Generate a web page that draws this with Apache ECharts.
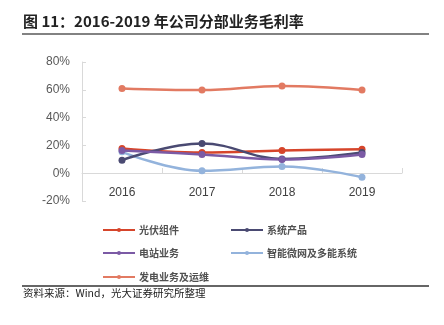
<!DOCTYPE html>
<html><head><meta charset="utf-8">
<script src="https://cdn.jsdelivr.net/npm/echarts@6/dist/echarts.min.js"></script>
<style>html,body{margin:0;padding:0;background:#fff}#c{width:444px;height:325px}</style>
</head><body><div id="c"></div>
<script>
const categories = ['2016', '2017', '2018', '2019'];
const yTicks = [-20, 0, 20, 40, 60, 80];
const seriesNames = ['光伏组件', '系统产品', '电站业务', '智能微网及多能系统', '发电业务及运维'];
const pvModules = [17.8, 14.9, 16.4, 17.3];
const systemProducts = [9.4, 21.4, 10.3, 14.9];
const stationBusiness = [16.4, 13.5, 9.9, 13.5];
const microgrid = [15.4, 1.7, 4.8, -2.9];
const powerGen = [61.0, 59.8, 62.7, 59.8];
const colors = ['#D6452B', '#4A4A72', '#7B5AA5', '#93B3DC', '#E27A62'];
const values = [pvModules, systemProducts, stationBusiness, microgrid, powerGen];

const font = '"Noto Sans CJK SC", "Noto Sans", sans-serif';
const chart = echarts.init(document.getElementById('c'), null, {renderer: 'canvas'});

const legendPos = [
  {left: 102, top: 225}, {left: 230, top: 225},
  {left: 102, top: 248}, {left: 230, top: 248},
  {left: 102, top: 272}
];

chart.setOption({
  animation: false,
  backgroundColor: '#fff',
  color: colors,
  grid: {left: 82, right: 42, top: 62, bottom: 124, containLabel: false},
  legend: seriesNames.map((n, i) => ({
    data: [n], left: legendPos[i].left, top: legendPos[i].top, padding: 0,
    itemWidth: 32, itemHeight: 5, itemGap: 4,
    textStyle: {fontFamily: font, fontSize: 10, fontWeight: 'bold', color: '#505050', padding: [0, 0, 0, -1]}
  })),
  xAxis: {
    type: 'category', data: categories, boundaryGap: true,
    offset: -28,
    axisLine: {show: true, onZero: false, lineStyle: {color: '#D9D9D9', width: 1}},
    axisTick: {show: true, inside: true, length: 5, lineStyle: {color: '#D9D9D9'}},
    axisLabel: {fontFamily: '"Liberation Sans", Arial, sans-serif', fontSize: 12, color: '#404040', margin: 14},
    splitLine: {show: false}
  },
  yAxis: {
    type: 'value', min: yTicks[0], max: yTicks[yTicks.length - 1], interval: 20,
    axisLine: {show: true, lineStyle: {color: '#D9D9D9', width: 1}},
    axisTick: {show: true, inside: true, length: 4, lineStyle: {color: '#D9D9D9'}},
    axisLabel: {fontFamily: '"Liberation Sans", Arial, sans-serif', fontSize: 12, color: '#595959', margin: 12,
      formatter: v => v + '%'},
    splitLine: {show: false}
  },
  series: seriesNames.map((n, i) => ({
    name: n, type: 'line', data: values[i], smooth: 0.4,
    symbol: 'circle', symbolSize: 7,
    lineStyle: {width: 2.5, color: colors[i]},
    itemStyle: {color: colors[i]},
    z: i === 3 ? 1 : 2
  })),
  graphic: [
    {type: 'text', left: 23, top: 14, style: {text: '图 11：2016-2019 年公司分部业务毛利率', font: 'bold 15px ' + font, fill: '#222'}},
    {type: 'line', shape: {x1: 22, y1: 34, x2: 429, y2: 34}, style: {stroke: '#595959', lineWidth: 1.5}},
    {type: 'line', shape: {x1: 22, y1: 286, x2: 429, y2: 286}, style: {stroke: '#333', lineWidth: 1.5}},
    {type: 'text', left: 23, top: 288, style: {text: '资料来源：Wind，光大证券研究所整理', font: '10.5px ' + font, fill: '#222'}}
  ]
});
</script></body></html>
